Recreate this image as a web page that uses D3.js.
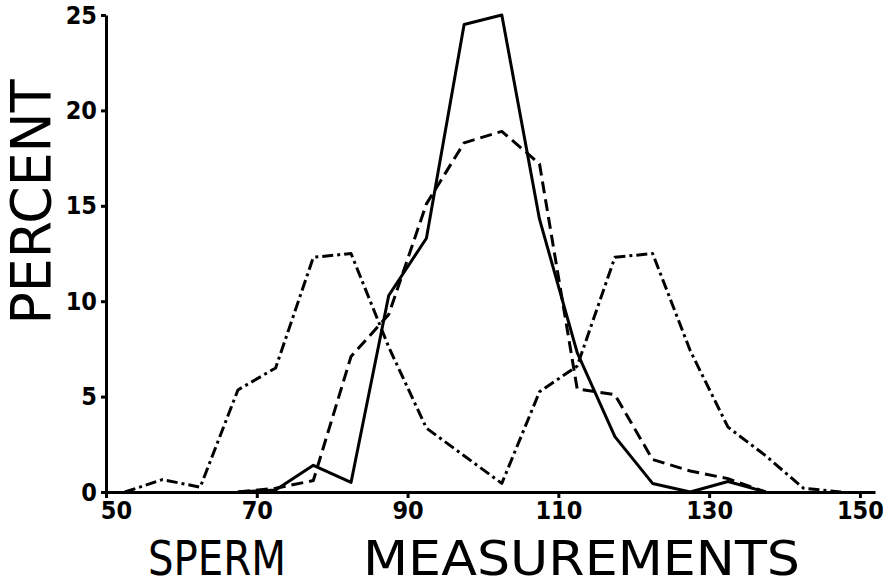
<!DOCTYPE html>
<html>
<head>
<meta charset="utf-8">
<script src="https://cdn.jsdelivr.net/npm/d3@7"></script>
<style>
  body { margin: 0; background: #fff; }
  svg { display: block; }
  .axis path, .axis line { stroke: #000; stroke-width: 3; }
  .axis text { font-family: "DejaVu Sans Condensed", "DejaVu Sans", sans-serif; font-weight: bold; font-size: 25px; fill: #000; }
  .title { font-family: "DejaVu Sans", sans-serif; fill: #000; }
  .curve { fill: none; stroke: #000; stroke-width: 3; stroke-linejoin: round; }
</style>
</head>
<body>
<svg id="chart" width="883" height="586"></svg>
<script>
// class midpoints (sperm measurement)
var midpoints = [52.5, 57.5, 62.5, 67.5, 72.5, 77.5, 82.5, 87.5, 92.5, 97.5,
                 102.5, 107.5, 112.5, 117.5, 122.5, 127.5, 132.5, 137.5, 142.5, 147.5];

// percent per class, null where the curve is not drawn
var solidSeries  = [null, null, null, 0, 0.1, 1.4, 0.5, 10.3, 13.3, 24.5,
                    25, 14.3, 7.3, 2.9, 0.45, 0, 0.55, 0, null, null];
var dashedSeries = [null, null, null, 0, 0.2, 0.6, 7.1, 9.3, 15.1, 18.3,
                    18.9, 17.2, 5.4, 5.1, 1.7, 1.1, 0.7, 0, null, null];
var dashDotSeries = [0, 0.65, 0.25, 5.35, 6.5, 12.3, 12.5, 7.6, 3.35, 1.9,
                     0.45, 5.25, 6.6, 12.3, 12.5, 7.4, 3.4, 1.9, 0.2, 0];

var xTicks = [50, 70, 90, 110, 130, 150];
var yTicks = [0, 5, 10, 15, 20, 25];

var svg = d3.select("#chart");

var x = d3.scaleLinear().domain([50, 152]).range([106, 875]);
var y = d3.scaleLinear().domain([0, 25]).range([492, 15]);

//x axis, ticks pointing down
var xAxis = svg.append("g")
   .attr("class", "axis")
   .attr("transform", "translate(0," + y(0) + ")")
   .call(d3.axisBottom(x).tickValues(xTicks).tickSize(6).tickSizeOuter(0).tickPadding(3));
xAxis.selectAll("text")
   .attr("dx", function(d){ return d == 50 ? 10 : 0; });

//y axis, short ticks to the left
svg.append("g")
   .attr("class", "axis")
   .attr("transform", "translate(" + x(50) + ",0)")
   .call(d3.axisLeft(y).tickValues(yTicks).tickSize(5).tickSizeOuter(0).tickPadding(4));

function drawCurve(values, dash){
   var pts = midpoints.map(function(m, i){ return [m, values[i]]; });
   var line = d3.line()
      .defined(function(d){ return d[1] != null; })
      .x(function(d){ return x(d[0]); })
      .y(function(d){ return y(d[1]); });
   svg.append("path")
      .datum(pts)
      .attr("class", "curve")
      .attr("stroke-dasharray", dash)
      .attr("d", line);
}

drawCurve(dashDotSeries, "11,4,3,4");
drawCurve(dashedSeries, "12,6");
drawCurve(solidSeries, null);

//axis titles
svg.append("text")
   .attr("class", "title")
   .attr("transform", "translate(50,202) rotate(-90)")
   .attr("text-anchor", "middle")
   .attr("font-size", 55)
   .attr("textLength", 245)
   .attr("lengthAdjust", "spacingAndGlyphs")
   .text("PERCENT");

svg.append("text")
   .attr("class", "title")
   .attr("x", 148)
   .attr("y", 575)
   .attr("font-size", 48)
   .style("font-family", "'DejaVu Sans Condensed', 'DejaVu Sans', sans-serif")
   .attr("textLength", 138)
   .attr("lengthAdjust", "spacingAndGlyphs")
   .text("SPERM");

svg.append("text")
   .attr("class", "title")
   .attr("x", 363)
   .attr("y", 575)
   .attr("font-size", 48)
   .attr("textLength", 437)
   .attr("lengthAdjust", "spacingAndGlyphs")
   .text("MEASUREMENTS");
</script>
</body>
</html>
